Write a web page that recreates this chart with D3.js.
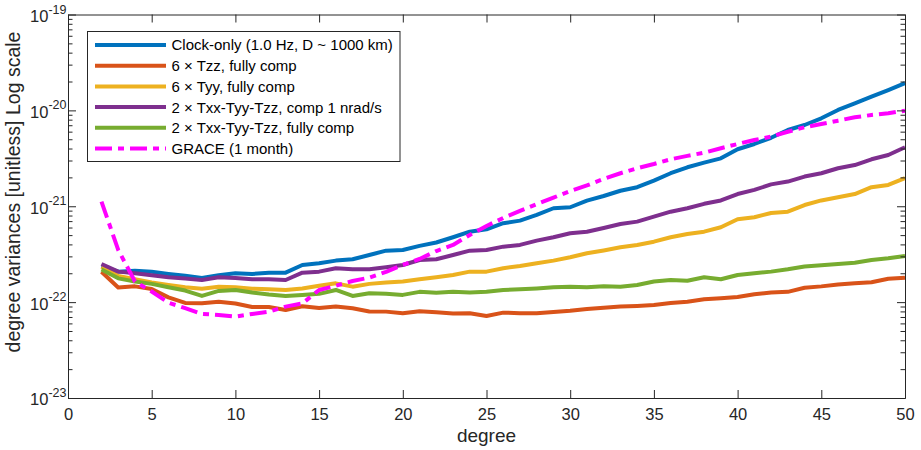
<!DOCTYPE html>
<html>
<head>
<meta charset="utf-8">
<script src="https://cdn.jsdelivr.net/npm/d3@7"></script>
<style>
  html, body { margin: 0; padding: 0; background: #fff; }
  svg { display: block; font-family: "Liberation Sans", Arial, Helvetica, sans-serif; }
</style>
</head>
<body>
<svg id="chart" width="921" height="450"></svg>
<script>
// ---------------- data ----------------
const degrees = d3.range(2, 51); // spherical harmonic degree 2..50

const clockOnly = [2.38e-22, 2.08e-22, 2.13e-22, 2.07e-22, 1.97e-22, 1.88e-22, 1.79e-22, 1.91e-22, 2.00e-22, 1.97e-22,
  2.02e-22, 2.03e-22, 2.44e-22, 2.54e-22, 2.71e-22, 2.80e-22, 3.10e-22, 3.44e-22, 3.50e-22, 3.86e-22,
  4.19e-22, 4.75e-22, 5.43e-22, 5.75e-22, 6.65e-22, 7.08e-22, 8.11e-22, 9.53e-22, 9.76e-22, 1.146e-21,
  1.28e-21, 1.45e-21, 1.58e-21, 1.85e-21, 2.21e-21, 2.55e-21, 2.85e-21, 3.16e-21, 3.93e-21, 4.46e-21,
  5.18e-21, 6.24e-21, 7.04e-21, 8.27e-21, 1.01e-20, 1.18e-20, 1.39e-20, 1.63e-20, 1.92e-20];

const tzz6 = [2.07e-22, 1.42e-22, 1.46e-22, 1.37e-22, 1.12e-22, 9.81e-23, 9.75e-23, 1.01e-22, 9.69e-23, 8.91e-23,
  8.91e-23, 8.29e-23, 9.06e-23, 8.70e-23, 8.98e-23, 8.63e-23, 8.00e-23, 7.96e-23, 7.66e-23, 8.04e-23,
  7.85e-23, 7.62e-23, 7.66e-23, 7.18e-23, 7.77e-23, 7.66e-23, 7.66e-23, 7.90e-23, 8.15e-23, 8.49e-23,
  8.76e-23, 8.98e-23, 9.13e-23, 9.35e-23, 9.81e-23, 1.01e-22, 1.07e-22, 1.10e-22, 1.13e-22, 1.21e-22,
  1.26e-22, 1.28e-22, 1.41e-22, 1.46e-22, 1.53e-22, 1.57e-22, 1.61e-22, 1.75e-22, 1.80e-22];

const tyy6 = [2.33e-22, 1.88e-22, 1.73e-22, 1.60e-22, 1.51e-22, 1.43e-22, 1.38e-22, 1.45e-22, 1.43e-22, 1.38e-22,
  1.36e-22, 1.34e-22, 1.39e-22, 1.48e-22, 1.57e-22, 1.45e-22, 1.55e-22, 1.60e-22, 1.64e-22, 1.73e-22,
  1.82e-22, 1.92e-22, 2.08e-22, 2.08e-22, 2.26e-22, 2.38e-22, 2.54e-22, 2.71e-22, 2.94e-22, 3.23e-22,
  3.46e-22, 3.74e-22, 3.95e-22, 4.27e-22, 4.75e-22, 5.14e-22, 5.43e-22, 6.04e-22, 7.32e-22, 7.68e-22,
  8.51e-22, 8.78e-22, 1.03e-21, 1.15e-21, 1.24e-21, 1.34e-21, 1.58e-21, 1.67e-21, 1.96e-21];

const txyzComp1 = [2.50e-22, 2.08e-22, 2.00e-22, 1.91e-22, 1.82e-22, 1.76e-22, 1.70e-22, 1.82e-22, 1.79e-22, 1.73e-22,
  1.73e-22, 1.70e-22, 2.03e-22, 2.08e-22, 2.26e-22, 2.20e-22, 2.20e-22, 2.31e-22, 2.44e-22, 2.75e-22,
  2.80e-22, 3.10e-22, 3.44e-22, 3.50e-22, 3.79e-22, 3.95e-22, 4.38e-22, 4.75e-22, 5.23e-22, 5.43e-22,
  5.94e-22, 6.54e-22, 6.91e-22, 7.79e-22, 8.78e-22, 9.53e-22, 1.06e-21, 1.15e-21, 1.34e-21, 1.48e-21,
  1.69e-21, 1.81e-21, 2.04e-21, 2.21e-21, 2.49e-21, 2.69e-21, 3.09e-21, 3.42e-21, 4.12e-21];

const txyzFull = [2.19e-22, 1.77e-22, 1.64e-22, 1.55e-22, 1.43e-22, 1.32e-22, 1.16e-22, 1.31e-22, 1.34e-22, 1.26e-22,
  1.20e-22, 1.16e-22, 1.19e-22, 1.22e-22, 1.34e-22, 1.16e-22, 1.24e-22, 1.22e-22, 1.19e-22, 1.28e-22,
  1.25e-22, 1.28e-22, 1.26e-22, 1.28e-22, 1.34e-22, 1.36e-22, 1.39e-22, 1.43e-22, 1.45e-22, 1.43e-22,
  1.46e-22, 1.45e-22, 1.51e-22, 1.64e-22, 1.70e-22, 1.67e-22, 1.82e-22, 1.73e-22, 1.92e-22, 2.00e-22,
  2.08e-22, 2.20e-22, 2.35e-22, 2.42e-22, 2.50e-22, 2.58e-22, 2.75e-22, 2.87e-22, 3.03e-22];

const grace = [1.12e-21, 3.50e-22, 1.64e-22, 1.29e-22, 9.88e-23, 8.64e-23, 7.53e-23, 7.35e-23, 7.06e-23, 7.53e-23,
  7.96e-23, 8.98e-23, 9.69e-23, 1.34e-22, 1.48e-22, 1.66e-22, 1.80e-22, 2.07e-22, 2.44e-22, 2.82e-22,
  3.41e-22, 3.95e-22, 5.02e-22, 6.23e-22, 7.55e-22, 8.94e-22, 1.05e-21, 1.23e-21, 1.44e-21, 1.65e-21,
  1.93e-21, 2.21e-21, 2.49e-21, 2.76e-21, 3.09e-21, 3.35e-21, 3.62e-21, 4.03e-21, 4.46e-21, 4.91e-21,
  5.32e-21, 5.99e-21, 6.66e-21, 7.21e-21, 7.81e-21, 8.47e-21, 8.95e-21, 9.33e-21, 9.93e-21];

const seriesNames = [
  "Clock-only (1.0 Hz, D ~ 1000 km)",
  "6 \u00d7 Tzz, fully comp",
  "6 \u00d7 Tyy, fully comp",
  "2 \u00d7 Txx-Tyy-Tzz, comp 1 nrad/s",
  "2 \u00d7 Txx-Tyy-Tzz, fully comp",
  "GRACE (1 month)"
];
const seriesValues = [clockOnly, tzz6, tyy6, txyzComp1, txyzFull, grace];
const seriesColors = ["#0072BD", "#D95319", "#EDB120", "#7E2F8E", "#77AC30", "#FF00FF"];
const seriesDash = [null, null, null, null, null, "17,6,6,6"];

const xTicks = [0, 5, 10, 15, 20, 25, 30, 35, 40, 45, 50];
const yDecades = [1e-23, 1e-22, 1e-21, 1e-20, 1e-19];
const yTickExponents = ["-23", "-22", "-21", "-20", "-19"];
const yMinorMultipliers = [2, 3, 4, 5, 6, 7, 8, 9];
const xLabel = "degree";
const yLabel = "degree variances [unitless] Log scale";

// ---------------- layout ----------------
const L = 68, R = 905, T = 14.5, B = 398;
const axisColor = "#262626";

const svg = d3.select("#chart");
const x = d3.scaleLinear().domain([0, 50]).range([L, R]);
const y = d3.scaleLog().domain([1e-23, 1e-19]).range([B, T]);

const yMinor = [];
yDecades.slice(0, -1).forEach(d => yMinorMultipliers.forEach(m => yMinor.push(d * m)));

// series lines
const line = d3.line().x((d, i) => x(degrees[i])).y(d => y(d));
const gLines = svg.append("g");
seriesValues.forEach((vals, k) => {
  gLines.append("path")
    .datum(vals)
    .attr("d", line)
    .attr("fill", "none")
    .attr("stroke", seriesColors[k])
    .attr("stroke-width", 4)
    .attr("stroke-linejoin", "round")
    .attr("stroke-linecap", seriesDash[k] ? "butt" : "butt")
    .attr("stroke-dasharray", seriesDash[k]);
});

// axes
function styleAxis(g) {
  g.selectAll("path.domain").attr("stroke", axisColor).attr("stroke-width", 1);
  g.selectAll(".tick line").attr("stroke", axisColor).attr("stroke-width", 1);
  g.selectAll(".tick text").attr("fill", axisColor);
}

const xb = svg.append("g").attr("transform", `translate(0,${B})`)
  .call(d3.axisBottom(x).tickValues(xTicks).tickSizeInner(-8).tickSizeOuter(0).tickPadding(10.5))
  .call(styleAxis);
xb.selectAll(".tick text").attr("font-size", 16.5).attr("font-family", "Liberation Sans, Arial, sans-serif");

svg.append("g").attr("transform", `translate(0,${T})`)
  .call(d3.axisTop(x).tickValues(xTicks).tickSizeInner(-8).tickSizeOuter(0).tickFormat(""))
  .call(styleAxis);

// left axis: majors with labels
const yl = svg.append("g").attr("transform", `translate(${L},0)`)
  .call(d3.axisLeft(y).tickValues(yDecades).tickSizeInner(-8).tickSizeOuter(0).tickPadding(1.5).tickFormat(() => ""))
  .call(styleAxis);
yl.selectAll(".tick text")
  .attr("font-size", 16.5)
  .attr("font-family", "Liberation Sans, Arial, sans-serif")
  .attr("dy", "0.42em")
  .each(function(d, i) {
    const t = d3.select(this);
    t.append("tspan").text("10");
    t.append("tspan").attr("font-size", 12.5).attr("dy", -8.4).text(yTickExponents[i]);
  });
svg.append("g").attr("transform", `translate(${L},0)`)
  .call(d3.axisLeft(y).tickValues(yMinor).tickSizeInner(-4.5).tickSizeOuter(0).tickFormat(""))
  .call(styleAxis);

// right axis
svg.append("g").attr("transform", `translate(${R},0)`)
  .call(d3.axisRight(y).tickValues(yDecades).tickSizeInner(-8).tickSizeOuter(0).tickFormat(""))
  .call(styleAxis);
svg.append("g").attr("transform", `translate(${R},0)`)
  .call(d3.axisRight(y).tickValues(yMinor).tickSizeInner(-4.5).tickSizeOuter(0).tickFormat(""))
  .call(styleAxis);

// axis labels
svg.append("text")
  .attr("x", (L + R) / 2).attr("y", 441.5)
  .attr("text-anchor", "middle")
  .attr("font-size", 19).attr("fill", axisColor)
  .text(xLabel);

svg.append("text")
  .attr("transform", `translate(20,192) rotate(-90)`)
  .attr("text-anchor", "middle")
  .attr("font-size", 19.5).attr("fill", axisColor)
  .text(yLabel);

// legend
const lg = svg.append("g");
lg.append("rect")
  .attr("x", 87.5).attr("y", 31.5).attr("width", 312.5).attr("height", 130)
  .attr("fill", "#fff").attr("stroke", axisColor).attr("stroke-width", 1);
const rowY = d3.scaleLinear().domain([0, 5]).range([45, 148.5]);
seriesNames.forEach((name, k) => {
  const yy = rowY(k);
  lg.append("line")
    .attr("x1", 95).attr("x2", 166).attr("y1", yy).attr("y2", yy)
    .attr("stroke", seriesColors[k]).attr("stroke-width", 4)
    .attr("stroke-dasharray", seriesDash[k]);
  lg.append("text")
    .attr("x", 171.5).attr("y", yy).attr("dy", "0.36em")
    .attr("font-size", 15).attr("fill", "#000")
    .text(name);
});
</script>
</body>
</html>
